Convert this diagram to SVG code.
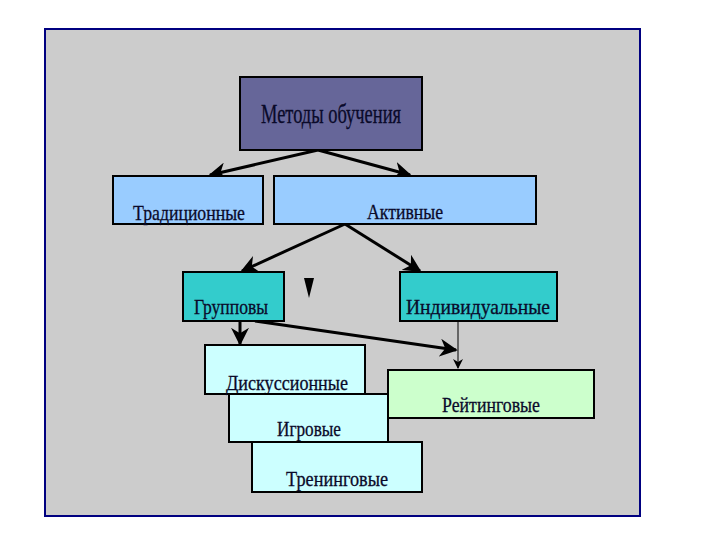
<svg xmlns="http://www.w3.org/2000/svg" width="720" height="540" viewBox="0 0 720 540">
<defs>
<marker id="ah" viewBox="0 0 10 10" refX="9" refY="5" markerWidth="6" markerHeight="6" orient="auto" markerUnits="strokeWidth">
<path d="M0,0 L10,5 L0,10 L3,5 z" fill="#000"/>
</marker>
<marker id="ahs" viewBox="0 0 10 10" refX="9" refY="5" markerWidth="10" markerHeight="10" orient="auto" markerUnits="strokeWidth">
<path d="M0,0 L10,5 L0,10 L3,5 z" fill="#000"/>
</marker>
</defs>
<style>
.box{stroke:#000;stroke-width:2}
.t{font-family:"Liberation Serif","DejaVu Serif",serif;fill:#0a0a2a;text-anchor:middle;stroke:#0a0a2a;stroke-width:0.3}
.l{stroke:#000;stroke-width:3;fill:none}
</style>
<rect x="0" y="0" width="720" height="540" fill="#ffffff"/>
<rect x="45" y="29" width="595" height="487" fill="#cccccc" stroke="#000080" stroke-width="2"/>
<g id="connectors">
<line class="l" x1="318" y1="150" x2="210" y2="175" marker-end="url(#ah)"/>
<line class="l" x1="318" y1="150" x2="410" y2="175" marker-end="url(#ah)"/>
<line class="l" x1="345" y1="224" x2="242" y2="271" marker-end="url(#ah)"/>
<line class="l" x1="345" y1="224" x2="420" y2="271" marker-end="url(#ah)"/>
<line class="l" x1="240" y1="321" x2="240" y2="344" marker-end="url(#ah)"/>
<line class="l" x1="255" y1="321" x2="456" y2="350" marker-end="url(#ah)"/>
<line x1="458" y1="321" x2="458" y2="368" stroke="#000" stroke-width="1" marker-end="url(#ahs)"/>
<path d="M304,278 L314,278 L309,298 z" fill="#000"/>
</g>
<g id="n-metody">
<rect class="box" x="240" y="77" width="182" height="73" fill="#666699"/>
<text class="t" x="331" y="123" font-size="27" textLength="140" lengthAdjust="spacingAndGlyphs">Методы обучения</text>
</g>
<g id="n-trad">
<rect class="box" x="113" y="176" width="150" height="48" fill="#99ccff"/>
<text class="t" x="189" y="220" font-size="22" textLength="112" lengthAdjust="spacingAndGlyphs">Традиционные</text>
</g>
<g id="n-aktiv">
<rect class="box" x="274" y="176" width="262" height="48" fill="#99ccff"/>
<text class="t" x="405" y="219" font-size="22" textLength="76" lengthAdjust="spacingAndGlyphs">Активные</text>
</g>
<g id="n-grupp">
<rect class="box" x="183" y="272" width="101" height="49" fill="#33cccc"/>
<text class="t" x="231" y="314" font-size="22" textLength="74" lengthAdjust="spacingAndGlyphs">Групповы</text>
</g>
<g id="n-indiv">
<rect class="box" x="400" y="272" width="157" height="49" fill="#33cccc"/>
<text class="t" x="478" y="314" font-size="22" textLength="144" lengthAdjust="spacingAndGlyphs">Индивидуальные</text>
</g>
<g id="n-reit">
<rect class="box" x="388" y="370" width="206" height="48" fill="#ccffcc"/>
<text class="t" x="491" y="412" font-size="22" textLength="98" lengthAdjust="spacingAndGlyphs">Рейтинговые</text>
</g>
<g id="n-disk">
<rect class="box" x="205" y="345" width="160" height="49" fill="#ccffff"/>
<text class="t" x="287" y="390" font-size="22" textLength="122" lengthAdjust="spacingAndGlyphs">Дискуссионные</text>
</g>
<g id="n-igr">
<rect class="box" x="229" y="394" width="159" height="48" fill="#ccffff"/>
<text class="t" x="309" y="436" font-size="22" textLength="64" lengthAdjust="spacingAndGlyphs">Игровые</text>
</g>
<g id="n-tren">
<rect class="box" x="252" y="442" width="170" height="50" fill="#ccffff"/>
<text class="t" x="337" y="486" font-size="22" textLength="102" lengthAdjust="spacingAndGlyphs">Тренинговые</text>
</g>
</svg>
